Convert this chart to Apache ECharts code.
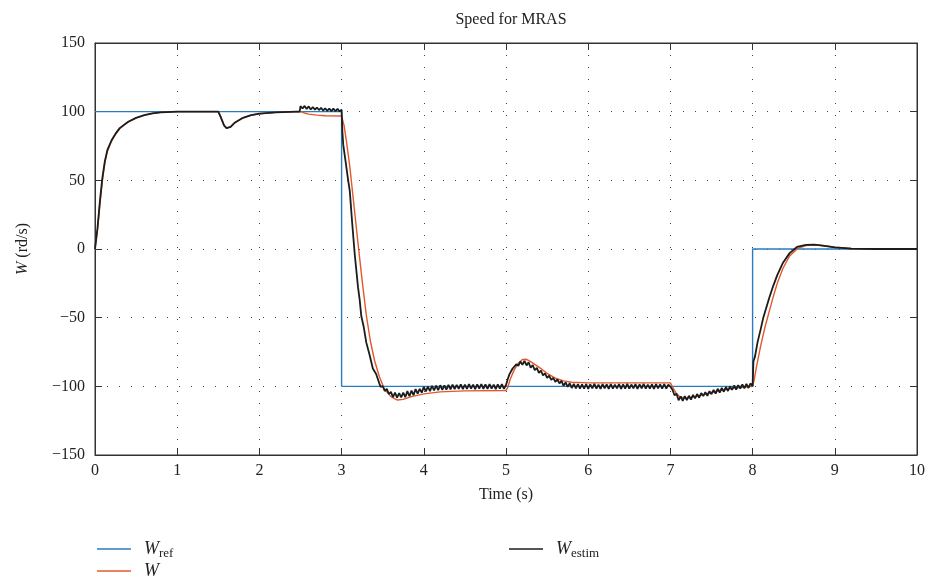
<!DOCTYPE html>
<html>
<head>
<meta charset="utf-8">
<script src="https://cdn.jsdelivr.net/npm/echarts@6/dist/echarts.min.js"></script>
<style>html,body{margin:0;padding:0;background:#fff}#c{width:930px;height:588px}</style>
</head>
<body>
<div id="c"></div>
<script>
// ---- data ----
var xTicks = [0,1,2,3,4,5,6,7,8,9,10];
var yTicks = [-150,-100,-50,0,50,100,150];

var wRef = [[0,100],[3,100],[3,-100],[8,-100],[8,0],[10,0]];

var wMotor = [
 [0,0],[0.03,14],[0.06,33],[0.09,50],[0.12,63],[0.15,71],[0.2,78.5],[0.25,83.5],[0.3,87.5],
 [0.4,92.5],[0.5,95.5],[0.6,97.5],[0.7,98.8],[0.8,99.5],[1.0,100],[1.5,100],[1.53,96],
 [1.57,90],[1.6,88],[1.65,89],[1.7,92],[1.8,95.5],[1.9,97.5],[2.0,98.5],[2.2,99.5],[2.5,100],
 [2.55,99],[2.6,98.2],[2.7,97.5],[2.8,97],[3.0,96.8],[3.03,90],[3.06,78],[3.1,60],[3.15,32],
 [3.2,4],[3.25,-23],[3.3,-48],[3.35,-67],[3.4,-81],[3.46,-93],[3.52,-102],[3.6,-107.5],
 [3.68,-110],[3.75,-109.5],[3.85,-107.5],[4.0,-105.5],[4.2,-104],[4.5,-103.3],[5.0,-103],
 [5.02,-101],[5.05,-95],[5.1,-88],[5.15,-83],[5.2,-80.5],[5.25,-80.3],[5.3,-82],[5.4,-86],
 [5.5,-90.5],[5.6,-94],[5.7,-96],[5.8,-97],[6.0,-97.5],[7.0,-97.5],[7.03,-101],[7.07,-105],
 [7.12,-108],[7.2,-108.5],[7.3,-107.5],[7.4,-106],[7.5,-104.5],[7.6,-103],[7.7,-102],
 [7.8,-101],[7.9,-100.5],[8.0,-100],[8.02,-95],[8.05,-85],[8.1,-70],[8.15,-57],[8.2,-46],
 [8.25,-35],[8.3,-25],[8.37,-14],[8.45,-5],[8.55,0.5],[8.65,2.5],[8.75,3],[8.85,2.5],
 [9.0,1.3],[9.2,0.4],[9.5,0],[10,0]
];

var wEstim = [
 [0,0],[0.03,15],[0.06,35],[0.09,52],[0.12,64],[0.15,72],[0.2,79],[0.25,84],[0.3,88],
 [0.4,92.5],[0.5,95.5],[0.6,97.5],[0.7,98.8],[0.8,99.5],[1.0,100],[1.5,100],[1.53,96],
 [1.57,90],[1.6,88],[1.65,89],[1.7,92],[1.8,95.5],[1.9,97.5],[2.0,98.5],[2.2,99.5],
 [2.45,100],[2.49,100],[2.5,104],
 [2.525,102.3],[2.55,104.2],[2.575,102],[2.6,103.8],[2.625,101.6],[2.65,103.4],[2.675,101.5],
 [2.7,103],[2.725,101.2],[2.75,102.8],[2.775,100.8],[2.8,102.5],[2.825,100.6],[2.85,102.3],
 [2.875,100.4],[2.9,102.2],[2.925,100.3],[2.95,102],[2.975,100.2],[3.0,101.5],
 [3.01,85],[3.02,76],[3.05,63],[3.08,50],[3.1,42],[3.13,18],[3.16,-4],[3.2,-28],[3.22,-37],
 [3.24,-49],[3.27,-57],[3.3,-68],[3.34,-77],[3.38,-87],[3.42,-91],[3.46,-98],
 [3.475,-100.5],[3.5,-99.8],[3.525,-103.4],[3.55,-101.9],[3.575,-105.6],[3.6,-104],
 [3.625,-107.8],[3.65,-104.6],[3.675,-108.2],[3.7,-104.9],[3.725,-108.1],[3.75,-104.6],
 [3.775,-107.9],[3.8,-103.5],[3.825,-107.2],[3.85,-103.1],[3.875,-106.4],[3.9,-102],
 [3.925,-105.3],[3.95,-101.8],[3.975,-104.6],[4.0,-100.4],[4.025,-103.7],[4.05,-100.2],
 [4.075,-103.5],[4.1,-99.6],[4.125,-102.9],[4.15,-99.5],[4.175,-102.8],[4.2,-99.2],
 [4.225,-102.6],[4.25,-99.3],[4.275,-102.4],[4.3,-98.9],[4.325,-102.2],[4.35,-98.7],
 [4.375,-102.1],[4.4,-98.9],[4.425,-101.8],[4.45,-98.5],[4.475,-102.1],[4.5,-98.7],
 [4.525,-101.9],[4.55,-98.4],[4.575,-101.7],[4.6,-98.8],[4.625,-102],[4.65,-98.5],
 [4.675,-101.6],[4.7,-98.3],[4.725,-101.9],[4.75,-98.6],[4.775,-101.8],[4.8,-98.4],
 [4.825,-101.7],[4.85,-98.7],[4.875,-102],[4.9,-98.5],[4.925,-101.6],[4.95,-98.4],
 [4.975,-101.8],[5.0,-99],
 [5.02,-95],[5.04,-91.5],[5.06,-90.5],[5.08,-87],[5.1,-87.5],[5.125,-84],[5.15,-85],
 [5.175,-82],[5.2,-84.3],[5.225,-81.5],[5.25,-84.8],[5.275,-82.5],[5.3,-86.5],[5.325,-84.5],
 [5.35,-88.3],[5.375,-86.5],[5.4,-90.2],[5.425,-88.5],[5.45,-92],[5.475,-90.5],[5.5,-93.8],
 [5.525,-92.3],[5.55,-95.3],[5.575,-93.8],[5.6,-96.7],[5.625,-95],[5.65,-97.9],[5.675,-96],
 [5.7,-99.6],[5.725,-97.2],[5.75,-100.4],[5.775,-97.8],[5.8,-101.2],[5.825,-98.2],
 [5.85,-101.5],[5.875,-98.4],[5.9,-101.7],
 [5.925,-98.5],[5.95,-101.6],[5.975,-98.3],[6.0,-101.8],[6.025,-98.6],[6.05,-101.5],
 [6.075,-98.2],[6.1,-101.7],[6.125,-98.7],[6.15,-101.9],[6.175,-98.4],[6.2,-101.4],
 [6.225,-98.6],[6.25,-101.8],[6.275,-98.3],[6.3,-101.6],[6.325,-98.8],[6.35,-101.5],
 [6.375,-98.4],[6.4,-101.9],[6.425,-98.5],[6.45,-101.6],[6.475,-98.2],[6.5,-101.7],
 [6.525,-98.7],[6.55,-101.5],[6.575,-98.4],[6.6,-101.8],[6.625,-98.6],[6.65,-101.4],
 [6.675,-98.3],[6.7,-101.7],[6.725,-98.8],[6.75,-101.6],[6.775,-98.5],[6.8,-101.9],
 [6.825,-98.4],[6.85,-101.5],[6.875,-98.6],[6.9,-101.7],[6.925,-98.3],[6.95,-101.6],
 [6.975,-98.7],[7.0,-100.3],
 [7.025,-102.5],[7.05,-106.5],[7.075,-105.4],[7.1,-110.2],[7.125,-107.3],[7.15,-110.6],
 [7.175,-107.2],[7.2,-110.1],[7.225,-106.9],[7.25,-109.6],[7.275,-106.3],[7.3,-108.7],
 [7.325,-105.6],[7.35,-108.3],[7.375,-104.9],[7.4,-107.1],[7.425,-104.3],[7.45,-106.9],
 [7.475,-103.5],[7.5,-105.7],[7.525,-102.6],[7.55,-105.3],[7.575,-101.8],[7.6,-104.5],
 [7.625,-101.2],[7.65,-103.9],[7.675,-100.5],[7.7,-103.4],[7.725,-100.1],[7.75,-102.6],
 [7.775,-99.4],[7.8,-102.4],[7.825,-99.1],[7.85,-101.7],[7.875,-98.6],[7.9,-101.5],
 [7.925,-98.3],[7.95,-101.2],[7.975,-97.9],[8.0,-100],
 [8.01,-82],[8.03,-78],[8.06,-68],[8.1,-58],[8.13,-50],[8.2,-36],[8.25,-27],[8.3,-19],
 [8.37,-10],[8.45,-3],[8.54,1.5],[8.65,3],[8.75,3.2],[8.85,2.5],[9.0,1.2],[9.2,0.3],
 [9.5,0],[10,0]
];

var colors = {Wref:'#2a7cc0', W:'#e0582c', Westim:'#1c1c1c'};

// ---- chart ----
var SERIF = 'Liberation Serif';
var chart = echarts.init(document.getElementById('c'));
function minusFmt(v){ return v < 0 ? '\u2212' + Math.abs(v) : String(v); }
var gridLine = {show:true, lineStyle:{color:'#444', width:1, type:[1,11]}};
var rich = {
  w:{fontFamily:SERIF, fontStyle:'italic', fontSize:18, color:'#222', padding:[0,0,0,8]},
  s:{fontFamily:SERIF, fontSize:13, color:'#222', padding:[9,0,0,0]}
};
function legendFmt(n){
  if (n === 'Wref') return '{w|W}{s|ref}';
  if (n === 'Westim') return '{w|W}{s|estim}';
  return '{w|W}';
}
function mkLegend(name, left, top){
  return {data:[name], left:left, top:top, icon:'rect', itemWidth:34, itemHeight:1.6,
    formatter:legendFmt, textStyle:{rich:rich}};
}
var axLine = {show:true, onZero:false, lineStyle:{color:'#333'}};
var axTick = {show:true, inside:true, length:7, lineStyle:{color:'#333'}};
chart.setOption({
  animation:false,
  backgroundColor:'#fff',
  title:{text:'Speed for MRAS', left:506, top:7, textAlign:'center',
    textStyle:{fontFamily:SERIF, fontWeight:'normal', fontSize:16, color:'#222'}},
  grid:{left:95, right:13, top:43, bottom:133, show:true, borderColor:'#333', borderWidth:1},
  legend:[
    mkLegend('Wref', 92, 535),
    mkLegend('W', 92, 557),
    mkLegend('Westim', 504, 535)
  ],
  xAxis:[{
    type:'value', min:0, max:10, interval:1, position:'bottom',
    name:'Time (s)', nameLocation:'middle', nameGap:32,
    nameTextStyle:{fontFamily:SERIF, fontSize:16, color:'#222'},
    axisLine:axLine, axisTick:axTick,
    axisLabel:{fontFamily:SERIF, fontSize:16, color:'#222', margin:8},
    splitLine:gridLine
  },{
    type:'value', min:0, max:10, interval:1, position:'top',
    axisLine:axLine, axisTick:axTick,
    axisLabel:{show:false}, splitLine:{show:false}
  }],
  yAxis:[{
    type:'value', min:-150, max:150, interval:50, position:'left',
    name:'{w|W} (rd/s)', nameLocation:'middle', nameGap:64,
    nameTextStyle:{fontFamily:SERIF, fontSize:16, color:'#222',
      rich:{w:{fontFamily:SERIF, fontStyle:'italic', fontSize:16, color:'#222'}}},
    axisLine:axLine, axisTick:axTick,
    axisLabel:{fontFamily:SERIF, fontSize:16, color:'#222', margin:10, formatter:minusFmt},
    splitLine:gridLine
  },{
    type:'value', min:-150, max:150, interval:50, position:'right',
    axisLine:axLine, axisTick:axTick,
    axisLabel:{show:false}, splitLine:{show:false}
  }],
  series:[
    {name:'Wref', type:'line', data:wRef, showSymbol:false, symbol:'none',
      lineStyle:{color:colors.Wref, width:1.4}, itemStyle:{color:colors.Wref}},
    {name:'W', type:'line', data:wMotor, showSymbol:false, symbol:'none',
      lineStyle:{color:colors.W, width:1.4}, itemStyle:{color:colors.W}},
    {name:'Westim', type:'line', data:wEstim, showSymbol:false, symbol:'none',
      lineStyle:{color:colors.Westim, width:1.8}, itemStyle:{color:colors.Westim}}
  ]
});
</script>
</body>
</html>
